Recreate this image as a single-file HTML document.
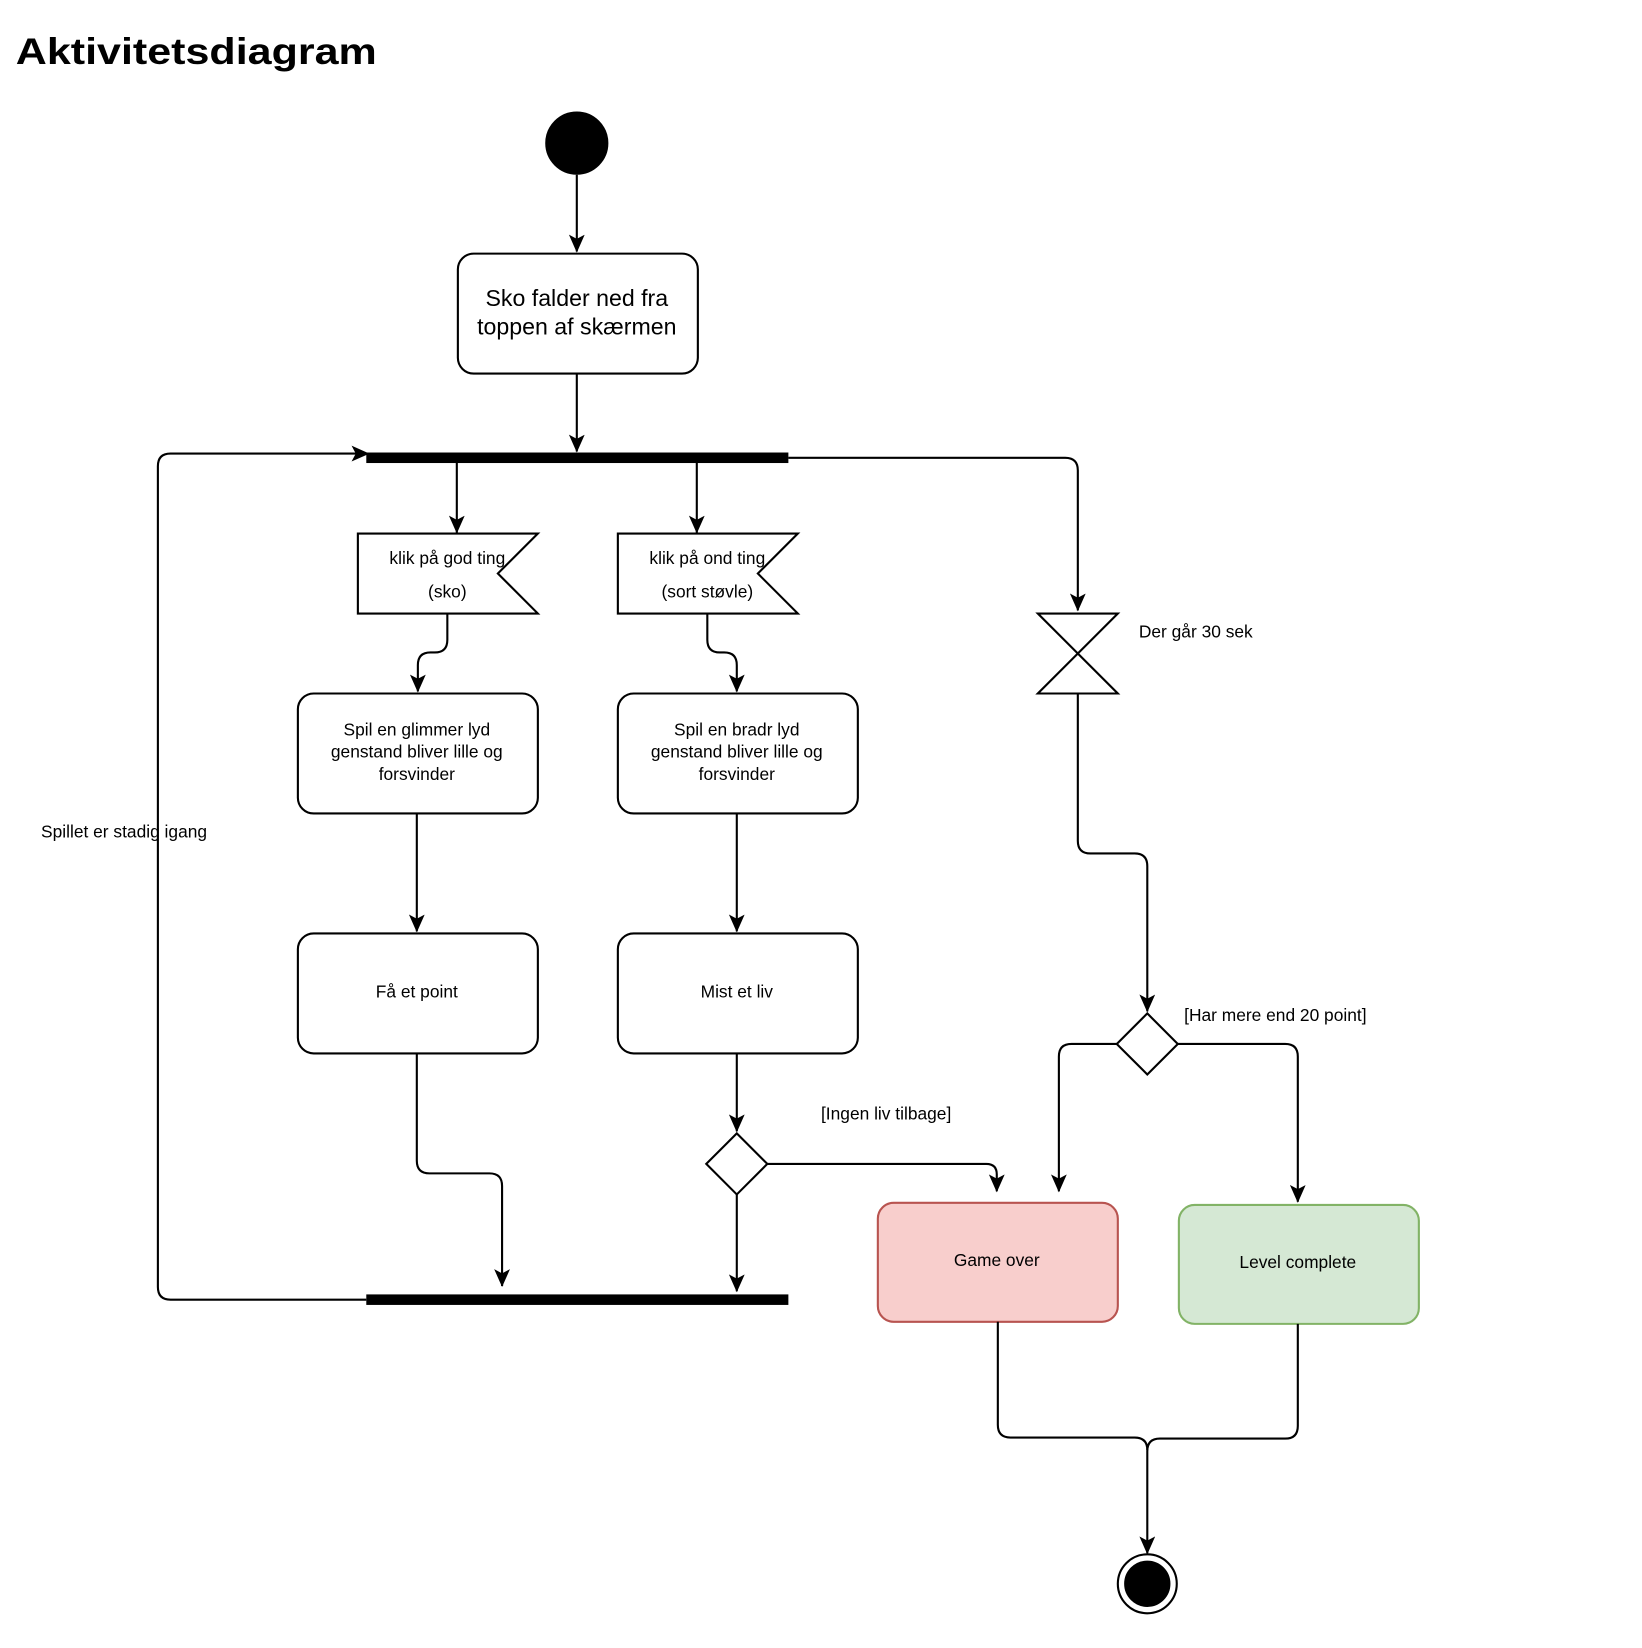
<!DOCTYPE html>
<html><head><meta charset="utf-8"><style>
html,body{margin:0;padding:0;background:#fff}
svg{display:block}
text{font-family:"Liberation Sans",Arial,sans-serif;fill:#000}
</style></head><body>
<svg width="1642" height="1648" viewBox="0 0 1560 1566" preserveAspectRatio="none" xmlns="http://www.w3.org/2000/svg">
<defs>
<marker id="a" markerWidth="18" markerHeight="18" refX="16" refY="7.5" orient="auto" markerUnits="userSpaceOnUse">
<path d="M0,0 L17,7.5 L0,15 L4,7.5 Z" fill="#000"/>
</marker>
</defs>
<text x="15" y="61" font-size="35" font-weight="bold" textLength="343" lengthAdjust="spacingAndGlyphs">Aktivitetsdiagram</text>
<g fill="none" stroke="#000" stroke-width="2">
<circle cx="548" cy="136" r="29" fill="#000"/>
<path d="M548,166 V239" marker-end="url(#a)"/>
<rect x="435" y="241" width="228" height="114" rx="15" fill="#fff"/>
<path d="M548,355 V429" marker-end="url(#a)"/>
<path d="M434,440 V506" marker-end="url(#a)"/>
<path d="M662,440 V506" marker-end="url(#a)"/>
<path d="M340,507 L511,507 L473,545 L511,583 L340,583 Z" fill="#fff"/>
<path d="M587,507 L758,507 L720,545 L758,583 L587,583 Z" fill="#fff"/>
<path d="M425,583 V608 Q425,620 413,620 H409 Q397,620 397,632 V657" marker-end="url(#a)"/>
<path d="M672,583 V608 Q672,620 684,620 H688 Q700,620 700,632 V657" marker-end="url(#a)"/>
<rect x="283" y="659" width="228" height="114" rx="15" fill="#fff"/>
<rect x="587" y="659" width="228" height="114" rx="15" fill="#fff"/>
<path d="M396,773 V885" marker-end="url(#a)"/>
<path d="M700,773 V885" marker-end="url(#a)"/>
<rect x="283" y="887" width="228" height="114" rx="15" fill="#fff"/>
<rect x="587" y="887" width="228" height="114" rx="15" fill="#fff"/>
<path d="M396,1001 V1103 Q396,1115 408,1115 H465 Q477,1115 477,1127 V1222" marker-end="url(#a)"/>
<path d="M700,1001 V1075" marker-end="url(#a)"/>
<path d="M700,1077 L729,1106 L700,1135 L671,1106 Z" fill="#fff"/>
<path d="M700,1135 V1227" marker-end="url(#a)"/>
<path d="M729,1106 H937 Q947,1106 947,1116 V1132" marker-end="url(#a)"/>
<path d="M348,1235 H162 Q150,1235 150,1223 V443 Q150,431 162,431 H350" marker-end="url(#a)"/>
<path d="M749,435 H1012 Q1024,435 1024,447 V580" marker-end="url(#a)"/>
<path d="M986,583 L1062,583 L986,659 L1062,659 Z" fill="#fff"/>
<path d="M1024,659 V799 Q1024,811 1036,811 H1078 Q1090,811 1090,823 V961" marker-end="url(#a)"/>
<path d="M1090,963 L1119,992 L1090,1021 L1061,992 Z" fill="#fff"/>
<path d="M1061,992 H1018 Q1006,992 1006,1004 V1132" marker-end="url(#a)"/>
<path d="M1119,992 H1221 Q1233,992 1233,1004 V1142" marker-end="url(#a)"/>
<rect x="834" y="1143" width="228" height="113" rx="15" fill="#f8cecc" stroke="#b85450"/>
<rect x="1120" y="1145" width="228" height="113" rx="15" fill="#d5e8d4" stroke="#82b366"/>
<path d="M948,1256 V1354 Q948,1366 960,1366 H1078 Q1090,1366 1090,1378"/>
<path d="M1233,1258 V1355 Q1233,1367 1221,1367 H1102 Q1090,1367 1090,1379 V1476" marker-end="url(#a)"/>
<circle cx="1090" cy="1505" r="28" fill="#fff"/>
<circle cx="1090" cy="1505" r="21" fill="#000"/>
</g>
<rect x="348" y="430" width="401" height="10" fill="#000"/>
<rect x="348" y="1230" width="401" height="10" fill="#000"/>
<g font-size="22" text-anchor="middle">
<text x="548" y="291">Sko falder ned fra</text>
<text x="548" y="318">toppen af skærmen</text>
</g>
<g font-size="16.5" text-anchor="middle">
<text x="425" y="536">klik på god ting</text>
<text x="425" y="568">(sko)</text>
<text x="672" y="536">klik på ond ting</text>
<text x="672" y="568">(sort støvle)</text>
<text x="396" y="699">Spil en glimmer lyd</text>
<text x="396" y="720">genstand bliver lille og</text>
<text x="396" y="741">forsvinder</text>
<text x="700" y="699">Spil en bradr lyd</text>
<text x="700" y="720">genstand bliver lille og</text>
<text x="700" y="741">forsvinder</text>
<text x="396" y="948">Få et point</text>
<text x="700" y="948">Mist et liv</text>
<text x="947" y="1203">Game over</text>
<text x="1233" y="1205">Level complete</text>
</g>
<g font-size="16.5">
<text x="39" y="796">Spillet er stadig igang</text>
<text x="1082" y="606">Der går 30 sek</text>
<text x="1125" y="970">[Har mere end 20 point]</text>
<text x="780" y="1064">[Ingen liv tilbage]</text>
</g>
</svg>
</body></html>
